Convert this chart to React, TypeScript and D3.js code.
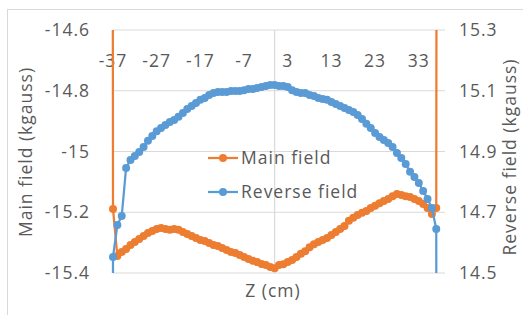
import * as d3 from "d3";

// Z position (cm) of each measurement
const zPos = [
  -38, -37, -36, -35, -34, -33, -32, -31, -30, -29, -28, -27, -26, -25, -24, -23, -22, -21, -20,
  -19, -18, -17, -16, -15, -14, -13, -12, -11, -10, -9, -8, -7, -6, -5, -4, -3, -2, -1, 0,
  1, 2, 3, 4, 5, 6, 7, 8, 9, 10, 11, 12, 13, 14, 15, 16, 17, 18, 19, 20,
  21, 22, 23, 24, 25, 26, 27, 28, 29, 30, 31, 32, 33, 34, 35, 36, 37, 38,
];

// Main field (kgauss), left axis
const mainField = [
  0, -15.189, -15.344, -15.331, -15.321, -15.308, -15.298, -15.288, -15.278, -15.268, -15.262,
  -15.255, -15.252, -15.255, -15.258, -15.255, -15.258, -15.265, -15.272, -15.278, -15.285,
  -15.291, -15.295, -15.301, -15.308, -15.311, -15.318, -15.324, -15.331, -15.334, -15.341,
  -15.347, -15.354, -15.36, -15.364, -15.37, -15.374, -15.38, -15.384,
  -15.374, -15.371, -15.364, -15.357, -15.347, -15.337, -15.328, -15.315, -15.305, -15.298,
  -15.291, -15.285, -15.275, -15.265, -15.255, -15.245, -15.228, -15.218, -15.209, -15.202,
  -15.196, -15.186, -15.179, -15.17, -15.163, -15.156, -15.147, -15.14, -15.143, -15.147,
  -15.15, -15.156, -15.163, -15.173, -15.186, -15.206, -15.186, 0,
];

// Reverse field (kgauss), right axis
const reverseField = [
  0, 14.553, 14.658, 14.688, 14.846, 14.872, 14.885, 14.898, 14.915, 14.935, 14.951,
  14.967, 14.977, 14.987, 14.997, 15.004, 15.014, 15.027, 15.04, 15.05, 15.06,
  15.07, 15.076, 15.086, 15.093, 15.096, 15.096, 15.096, 15.099, 15.099, 15.099,
  15.102, 15.106, 15.106, 15.109, 15.112, 15.116, 15.119, 15.119,
  15.116, 15.116, 15.112, 15.102, 15.096, 15.093, 15.093, 15.086, 15.083, 15.076,
  15.073, 15.07, 15.063, 15.056, 15.05, 15.043, 15.037, 15.03, 15.02, 15.007,
  14.991, 14.977, 14.961, 14.948, 14.938, 14.928, 14.915, 14.895, 14.879, 14.859,
  14.833, 14.816, 14.796, 14.77, 14.744, 14.714, 14.645, 0,
];

const xTicks = [-37, -27, -17, -7, 3, 13, 23, 33];
const leftTicks = [-14.6, -14.8, -15, -15.2, -15.4];
const rightTicks = [15.3, 15.1, 14.9, 14.7, 14.5];

const ORANGE = "#ED7D31";
const BLUE = "#5B9BD5";
const GRID = "#d9d9d9";
const TEXT = "#595959";
const FONT = "'Open Sans', 'Liberation Sans', sans-serif";

const W = 523;
const H = 315;
const plot = { left: 113, right: 445, top: 30, bottom: 273 };

export default function App() {
  const x = d3.scaleLinear().domain([-37, 39]).range([plot.left, plot.right]);
  const yL = d3.scaleLinear().domain([-15.4, -14.6]).range([plot.bottom, plot.top]);
  const yR = d3.scaleLinear().domain([14.5, 15.3]).range([plot.bottom, plot.top]);

  const mainPts = zPos.map((z, i) => ({ z, v: mainField[i] }));
  const revPts = zPos.map((z, i) => ({ z, v: reverseField[i] }));

  const mainLine = d3
    .line<{ z: number; v: number }>()
    .x((d) => x(d.z))
    .y((d) => yL(d.v));
  const revLine = d3
    .line<{ z: number; v: number }>()
    .x((d) => x(d.z))
    .y((d) => yR(d.v));

  const inX = (z: number) => z >= -37 && z <= 39;
  const mainVis = mainPts.filter((d) => inX(d.z) && d.v >= -15.4 && d.v <= -14.6);
  const revVis = revPts.filter((d) => inX(d.z) && d.v >= 14.5 && d.v <= 15.3);

  const txt = { fontFamily: FONT, fontSize: 17.5, letterSpacing: 1, fill: TEXT };

  const legend = [
    { label: "Main field", color: ORANGE, y: 158 },
    { label: "Reverse field", color: BLUE, y: 192 },
  ];

  return (
    <svg
      width={W}
      height={H}
      style={{ position: "absolute", left: 0, top: 0, background: "#fff" }}
    >
      <defs>
        <clipPath id="plotClip">
          <rect x={0} y={plot.top} width={W} height={plot.bottom - plot.top} />
        </clipPath>
      </defs>

      {/* chart border */}
      <rect x={7.5} y={9.5} width={530} height={320} fill="#fff" stroke={GRID} />

      {/* grid */}
      {leftTicks.map((t) => (
        <line
          key={t}
          x1={plot.left}
          x2={plot.right}
          y1={yL(t)}
          y2={yL(t)}
          stroke={GRID}
          strokeWidth={1}
        />
      ))}
      <line x1={x(0)} x2={x(0)} y1={plot.top} y2={plot.bottom} stroke={GRID} strokeWidth={1.2} />

      {/* top x tick labels */}
      {xTicks.map((t) => (
        <text key={t} x={x(t)} y={61} dy="0.35em" textAnchor="middle" {...txt}>
          {t}
        </text>
      ))}

      {/* left ticks */}
      {leftTicks.map((t) => (
        <text key={t} x={90} y={yL(t)} dy="0.35em" textAnchor="end" {...txt}>
          {t}
        </text>
      ))}

      {/* right ticks */}
      {rightTicks.map((t) => (
        <text key={t} x={459} y={yR(t)} dy="0.35em" textAnchor="start" {...txt}>
          {t.toFixed(1)}
        </text>
      ))}

      {/* series lines */}
      <g clipPath="url(#plotClip)">
        <path d={mainLine(mainPts) ?? ""} fill="none" stroke={ORANGE} strokeWidth={2.25} />
        {mainVis.map((d) => (
          <circle key={`m${d.z}`} cx={x(d.z)} cy={yL(d.v)} r={4} fill={ORANGE} />
        ))}
        <path d={revLine(revPts) ?? ""} fill="none" stroke={BLUE} strokeWidth={2.25} />
        {revVis.map((d) => (
          <circle key={`r${d.z}`} cx={x(d.z)} cy={yR(d.v)} r={4} fill={BLUE} />
        ))}
      </g>

      {/* legend */}
      {legend.map((l) => (
        <g key={l.label}>
          <line x1={208} x2={238} y1={l.y} y2={l.y} stroke={l.color} strokeWidth={2.25} />
          <circle cx={223} cy={l.y} r={4} fill={l.color} />
          <text x={241} y={l.y} dy="0.35em" {...txt}>
            {l.label}
          </text>
        </g>
      ))}

      {/* axis titles */}
      <text x={273} y={291} dy="0.35em" textAnchor="middle" {...txt}>
        Z (cm)
      </text>
      <text
        transform="translate(26,152) rotate(-90)"
        dy="0.35em"
        textAnchor="middle"
        {...txt}
      >
        Main field (kgauss)
      </text>
      <text
        transform="translate(510,157) rotate(-90)"
        dy="0.35em"
        textAnchor="middle"
        {...txt}
      >
        Reverse field (kgauss)
      </text>
    </svg>
  );
}
